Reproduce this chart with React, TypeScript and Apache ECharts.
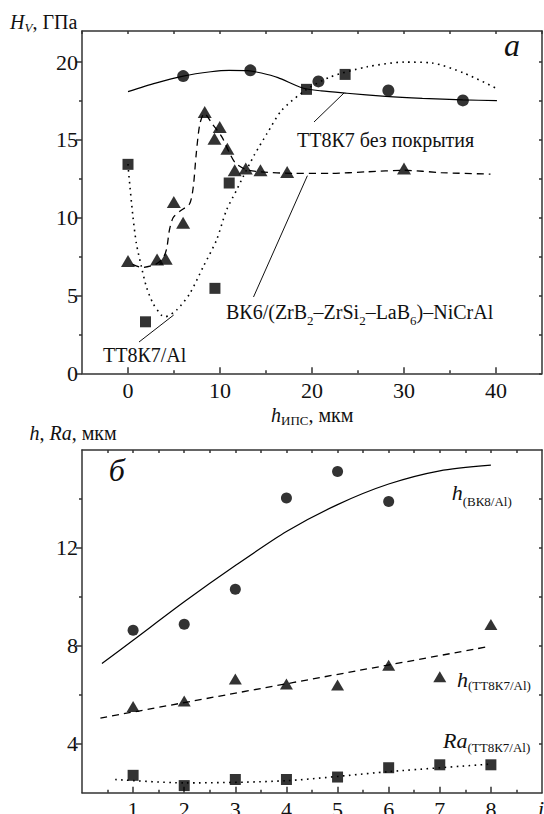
import React, { useEffect, useRef } from 'react';
import * as echarts from 'echarts';

const FONT = 'Liberation Serif, serif';

// ---------- Panel а : H_V vs h_ИПС ----------
const aXLabels = [0, 10, 20, 30, 40];
const aXMinor = [5, 15, 25, 35];
const aXTop = [-5, 0, 5, 10, 15, 20, 25, 30, 35, 40, 45];
const aYLabels = [0, 5, 10, 15, 20];
const aYMinor = [2.5, 7.5, 12.5, 17.5];
const aYRight = [0, 2.5, 5, 7.5, 10, 12.5, 15, 17.5, 20];

const circlesA = [[6.0, 19.1], [13.3, 19.47], [20.7, 18.76], [28.3, 18.18], [36.4, 17.54]];
const squaresA = [[0, 13.43], [1.9, 3.31], [9.45, 5.46], [11.0, 12.23], [19.4, 18.25], [23.6, 19.21]];
const trianglesA = [
  [0, 7.21], [3.16, 7.32], [4.1, 7.36], [4.98, 11.01], [5.99, 9.67], [8.34, 16.79],
  [9.4, 15.08], [9.97, 15.83], [10.8, 14.44], [11.6, 13.05], [12.8, 13.16], [14.4, 13.05],
  [17.3, 12.94], [30.0, 13.16],
];
const solidCurveA = [
  [0, 18.1], [3, 18.65], [6, 19.1], [9, 19.38], [11, 19.47], [13, 19.45], [14.5, 19.3],
  [16.3, 19.0], [18.9, 18.35], [21, 18.15], [23.8, 18.0], [28, 17.8], [32, 17.67],
  [36.4, 17.57], [40.1, 17.53],
];
const dottedCurveA = [
  [0, 13.45], [0.1, 12.7], [0.54, 10.05], [0.91, 8.34], [1.46, 6.84], [2.0, 5.56],
  [2.72, 4.49], [3.63, 3.74], [4.0, 3.63], [5.27, 4.06], [6.72, 5.13], [8.17, 6.84],
  [9.62, 8.56], [10.7, 10.48], [11.8, 11.77], [12.5, 12.62], [13.7, 14.0], [15.1, 15.4],
  [16.7, 16.9], [19.3, 18.2], [22.0, 19.05], [26, 19.7], [30, 20.0], [33, 19.95],
  [36.5, 19.3], [40.1, 18.3],
];
const dashedCurveA = [
  [0.5, 7.0], [1.5, 6.8], [3.0, 7.0], [3.8, 7.4], [4.2, 8.0], [4.5, 9.2], [4.9, 10.0],
  [5.6, 10.4], [6.7, 10.9], [7.1, 12.0], [7.4, 14.0], [7.8, 16.0], [8.3, 16.7], [9.2, 16.0],
  [10.2, 15.2], [11.0, 14.2], [11.7, 13.5], [12.8, 13.1], [14.4, 12.95], [18, 12.85],
  [22, 12.85], [26, 12.95], [30, 13.05], [34, 12.9], [39.4, 12.8],
];

// ---------- Panel б : h, Ra vs i ----------
const bXLabels = [1, 2, 3, 4, 5, 6, 7, 8];
const bXMinor = [0.5, 1.5, 2.5, 3.5, 4.5, 5.5, 6.5, 7.5, 8.5];
const bXTop = [0.5, 1, 1.5, 2, 2.5, 3, 3.5, 4, 4.5, 5, 5.5, 6, 6.5, 7, 7.5, 8, 8.5];
const bYLabels = [4, 8, 12];
const bYMinor = [6, 10, 14];
const bYRight = [4, 6, 8, 10, 12, 14];

const circlesB = [[1, 8.64], [2, 8.88], [3, 10.31], [4, 14.04], [5, 15.12], [6, 13.9]];
const trianglesB = [[1, 5.52], [2, 5.75], [3, 6.64], [4, 6.44], [5, 6.4], [6, 7.21], [7, 6.74], [8, 8.87]];
const squaresB = [[1, 2.71], [2, 2.29], [3, 2.54], [4, 2.54], [5, 2.64], [6, 3.02], [7, 3.14], [8, 3.14]];
const solidCurveB = [[0.39, 7.28], [1, 8.23], [2, 9.8], [3, 11.28], [4, 12.67], [5, 13.77], [6, 14.61], [7, 15.15], [8, 15.38]];
const dashedCurveB = [[0.36, 5.05], [7.93, 7.96]];
const dottedCurveB = [[0.65, 2.54], [2, 2.4], [4, 2.49], [6, 2.86], [8, 3.17]];

const LINE = { color: '#333', width: 1.5 };

function xAxes(grid: number, min: number, max: number, labels: number[], major: number[], minor: number[], top: number[]) {
  return [
    {
      type: 'value', gridIndex: grid, position: 'bottom', min, max, splitLine: { show: false },
      axisLine: { show: true, onZero: false, lineStyle: LINE },
      axisTick: { show: true, inside: true, length: 6, customValues: major, lineStyle: LINE },
      axisLabel: { show: true, customValues: labels, fontFamily: FONT, fontSize: 22, color: '#111', margin: 6 },
    },
    {
      type: 'value', gridIndex: grid, position: 'bottom', min, max, splitLine: { show: false },
      axisLine: { show: false, onZero: false },
      axisTick: { show: true, inside: true, length: 3, customValues: minor, lineStyle: LINE },
      axisLabel: { show: false },
    },
    {
      type: 'value', gridIndex: grid, position: 'top', min, max, splitLine: { show: false },
      axisLine: { show: true, onZero: false, lineStyle: LINE },
      axisTick: { show: true, inside: true, length: 3, customValues: top, lineStyle: LINE },
      axisLabel: { show: false },
    },
  ];
}

function yAxes(grid: number, min: number, max: number, labels: number[], major: number[], minor: number[], right: number[]) {
  return [
    {
      type: 'value', gridIndex: grid, position: 'left', min, max, splitLine: { show: false },
      axisLine: { show: true, onZero: false, lineStyle: LINE },
      axisTick: { show: true, inside: false, length: 6, customValues: major, lineStyle: LINE },
      axisLabel: { show: true, customValues: labels, fontFamily: FONT, fontSize: 22, color: '#111', margin: 4 },
    },
    {
      type: 'value', gridIndex: grid, position: 'left', min, max, splitLine: { show: false },
      axisLine: { show: false, onZero: false },
      axisTick: { show: true, inside: false, length: 3, customValues: minor, lineStyle: LINE },
      axisLabel: { show: false },
    },
    {
      type: 'value', gridIndex: grid, position: 'right', min, max, splitLine: { show: false },
      axisLine: { show: true, onZero: false, lineStyle: LINE },
      axisTick: { show: true, inside: true, length: 3, customValues: right, lineStyle: LINE },
      axisLabel: { show: false },
    },
  ];
}

function scatter(data: number[][], symbol: string, size: any, xi: number, yi: number) {
  return {
    type: 'scatter', data, symbol, symbolSize: size, xAxisIndex: xi, yAxisIndex: yi, z: 4,
    itemStyle: { color: '#000' }, silent: true,
  };
}

function curve(data: number[][], lineType: any, xi: number, yi: number, width = 1.3) {
  return {
    type: 'line', data, smooth: 0.25, showSymbol: false, symbol: 'none', xAxisIndex: xi, yAxisIndex: yi, z: 2,
    lineStyle: { color: '#000', width, type: lineType }, silent: true,
  };
}

const txt = (x: number, y: number, text: string, rich: any, align = 'left', extra: any = {}) => ({
  type: 'text', x, y, silent: true,
  style: { text, rich, align, verticalAlign: 'middle', fill: '#111', fontFamily: FONT, ...extra },
});

const R = (size: number, italic = false, padTop = 0) => ({
  fontFamily: FONT, fontSize: size, fontStyle: italic ? 'italic' : 'normal', color: '#111',
  padding: [padTop, 0, 0, 0],
});

const leader = (x1: number, y1: number, x2: number, y2: number) => ({
  type: 'line', silent: true, shape: { x1, y1, x2, y2 }, style: { stroke: '#111', lineWidth: 1 },
});

const option: any = {
  animation: false,
  backgroundColor: '#fff',
  textStyle: { fontFamily: FONT },
  grid: [
    { left: 82, top: 31, width: 460, height: 342.3, outerBoundsMode: 'none' },
    { left: 82, top: 450, width: 460, height: 342.7, outerBoundsMode: 'none' },
  ],
  xAxis: [
    ...xAxes(0, -5, 45, aXLabels, aXLabels, aXMinor, aXTop),
    ...xAxes(1, 0, 9, bXLabels, bXLabels, bXMinor, bXTop),
  ],
  yAxis: [
    ...yAxes(0, 0, 22, aYLabels, aYLabels, aYMinor, aYRight),
    ...yAxes(1, 2, 16, bYLabels, bYLabels, bYMinor, bYRight),
  ],
  series: [
    curve(solidCurveA, 'solid', 0, 0, 1.2),
    curve(dottedCurveA, [1.6, 4.4], 0, 0, 1.6),
    curve(dashedCurveA, [7, 5], 0, 0, 1.3),
    scatter(circlesA, 'circle', 12, 0, 0),
    scatter(squaresA, 'rect', 11, 0, 0),
    scatter(trianglesA, 'triangle', [14, 12], 0, 0),

    curve(solidCurveB, 'solid', 3, 3, 1.2),
    curve(dashedCurveB, [7, 5], 3, 3, 1.3),
    curve(dottedCurveB, [1.6, 4.4], 3, 3, 1.6),
    scatter(circlesB, 'circle', 11, 3, 3),
    scatter(trianglesB, 'triangle', [13, 11], 3, 3),
    scatter(squaresB, 'rect', 11, 3, 3),
  ],
  graphic: [
    txt(10, 22.2, '{i|H}{s|V}{n|, ГПа}', { i: R(20, true), s: R(13, true, 11), n: R(20) }),
    txt(512, 45, '{i|а}', { i: R(32, true) }, 'center'),
    txt(297, 140, '{n|ТТ8К7 без покрытия}', { n: R(20) }),
    leader(314, 122, 344, 93),
    txt(226, 311.5, '{n|ВК6/(ZrB}{s|2}{n|–ZrSi}{s|2}{n|–LaB}{s|6}{n|)–NiCrAl}', { n: R(20), s: R(13, false, 18) }),
    leader(253.5, 297, 307.4, 175.7),
    txt(103, 355, '{n|ТТ8К7/Al}', { n: R(20) }),
    leader(139, 342, 173.7, 315),
    txt(271, 414.9, '{i|h}{s|ИПС}{n|, мкм}', { i: R(20, true), s: R(13, false, 12), n: R(20) }),

    txt(29.5, 432.5, '{i|h}{n|, }{i|Ra}{n|, мкм}', { i: R(20, true), n: R(20) }),
    txt(116.7, 470, '{i|б}', { i: R(32, true) }, 'center'),
    txt(451.7, 492.5, '{i|h}{s|(ВК8/Al)}', { i: R(22, true), s: R(13, false, 18) }),
    txt(457, 679, '{i|h}{s|(ТТ8К7/Al)}', { i: R(22, true), s: R(13, false, 12) }),
    txt(443, 740.5, '{i|Ra}{s|(ТТ8К7/Al)}', { i: R(22, true), s: R(13, false, 14) }),
    txt(538, 808, '{i|i}', { i: R(22, true) }),
  ],
};

export default function App() {
  const ref = useRef<HTMLDivElement>(null);
  useEffect(() => {
    document.body.style.margin = '0';
    const chart = echarts.init(ref.current!, null, { renderer: 'svg' });
    chart.setOption(option);
    return () => chart.dispose();
  }, []);
  return <div ref={ref} style={{ width: 544, height: 814 }} />;
}
